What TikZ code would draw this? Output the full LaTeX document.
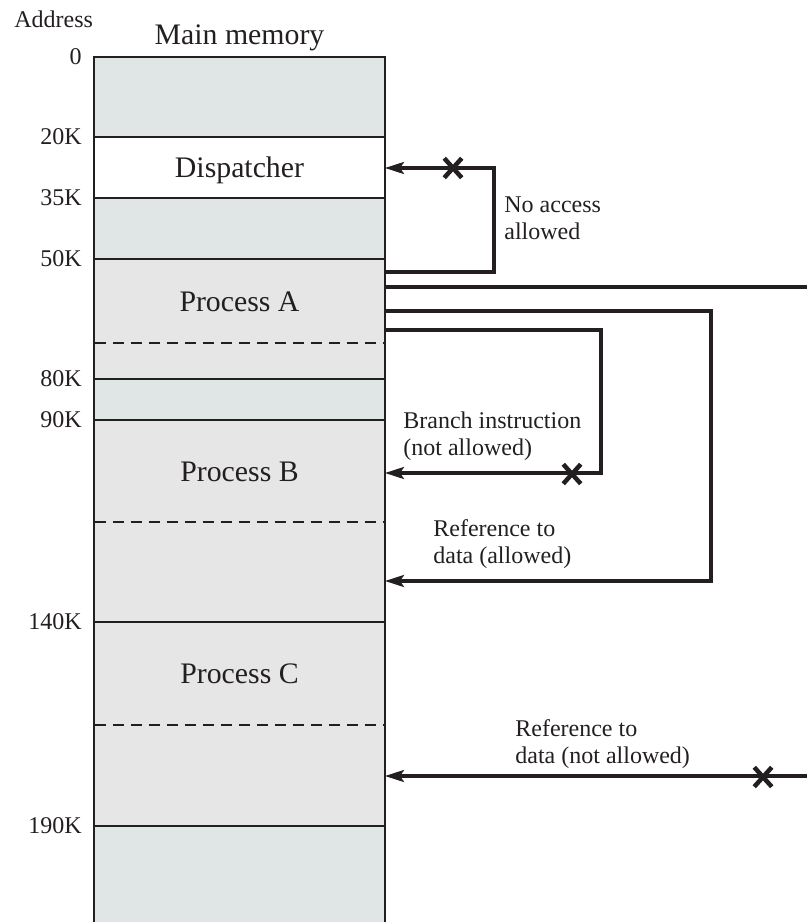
\documentclass[tikz,border=0pt]{standalone}
\usepackage{fontspec}
\setmainfont{Liberation Serif}
\usetikzlibrary{arrows.meta,shapes.misc}
\definecolor{memfree}{RGB}{224,230,230}
\definecolor{memproc}{RGB}{230,230,230}
\definecolor{ink}{RGB}{35,31,32}

\begin{document}
\begin{tikzpicture}[x=0.02cm,y=-0.02cm]
  \tikzstyle{bound}=[draw=ink,line width=0.035cm]
  \tikzstyle{split}=[draw=ink,line width=0.025cm,dash pattern=on 0.22cm off 0.14cm]
  \tikzstyle{lbl}=[inner sep=0pt,text=ink,font=\fontsize{13.66}{15.36}\selectfont]
  \tikzstyle{big}=[inner sep=0pt,text=ink,font=\fontsize{16.96}{20}\selectfont]
  \tikzstyle{addr}=[lbl,anchor=east]
  \tikzstyle{acc}=[ink,line width=0.065cm]
  \tikzstyle{f}=[acc,-{Stealth[length=0.38cm,width=0.24cm,inset=0.08cm]}]
  \tikzstyle{deny}=[cross out,draw=ink,line width=0.09cm,minimum width=0.26cm,
    minimum height=0.3cm,inner sep=0pt]

  \useasboundingbox (0,0) rectangle (807,922);

  % -- memory column --
  \fill[memfree] (94,57) rectangle (385,922);
  \fill[white] (94,137) rectangle (385,198);
  \fill[memproc] (94,259) rectangle (385,379);
  \fill[memproc] (94,420) rectangle (385,826);
  \draw[bound] (94,922) -- (94,57) -- (385,57) -- (385,922);
  \foreach \y in {137,198,259,379,420,622,826}
    \draw[bound] (94,\y) -- (385,\y);
  \foreach \y in {343,522,725}
    \draw[split] (95,\y) -- (384,\y);

  % -- addresses --
  \node[lbl,anchor=base west] (addrhd) at (14,28) {Address};
  \node[big,anchor=base] (memhd) at (239.5,45) {Main memory};
  \foreach \y/\a in {57/0,137/20K,198/35K,259/50K,379/80K,420/90K,622/140K,826/190K}
    \node[addr] (adr\a) at (82,\y) {\a};

  % -- regions --
  \node[big,anchor=base] (disp) at (239.5,177) {Dispatcher};
  \node[big,anchor=base] (procA) at (239.5,311) {Process A};
  \node[big,anchor=base] (procB) at (239.5,481) {Process B};
  \node[big,anchor=base] (procC) at (239.5,683) {Process C};

  % -- accesses --
  \coordinate (dispIn) at (385,168);
  \coordinate (aOut1) at (385,272);
  \coordinate (aOut2) at (385,287);
  \coordinate (aOut3) at (385,311);
  \coordinate (aOut4) at (385,330);
  \coordinate (bIn) at (385,473);
  \coordinate (bData) at (385,581);
  \coordinate (cData) at (385,776);
  \coordinate (offRight) at (807,287);
  \coordinate (extIn) at (807,776);

  \draw[f] (aOut1) -- ++(109,0) |- (dispIn);
  \draw[acc] (aOut2) -- (offRight);
  \draw[f] (aOut3) -- ++(326,0) |- (bData);
  \draw[f] (aOut4) -- ++(216,0) |- (bIn);
  \draw[f] (extIn) -- (cData);

  \node[deny] (xDisp) at (453,168) {};
  \node[deny] (xBranch) at (572,474) {};
  \node[deny] (xData) at (763,777) {};

  % base anchor sits on the last line
  \node[lbl,anchor=base west,align=left] (noacc) at (504,239) {No access\\allowed};
  \node[lbl,anchor=base west,align=left] (branch) at (403,455) {Branch instruction\\(not allowed)};
  \node[lbl,anchor=base west,align=left] (refok) at (433,563) {Reference to\\data (allowed)};
  \node[lbl,anchor=base west,align=left] (refno) at (515,763) {Reference to\\data (not allowed)};
\end{tikzpicture}
\end{document}
